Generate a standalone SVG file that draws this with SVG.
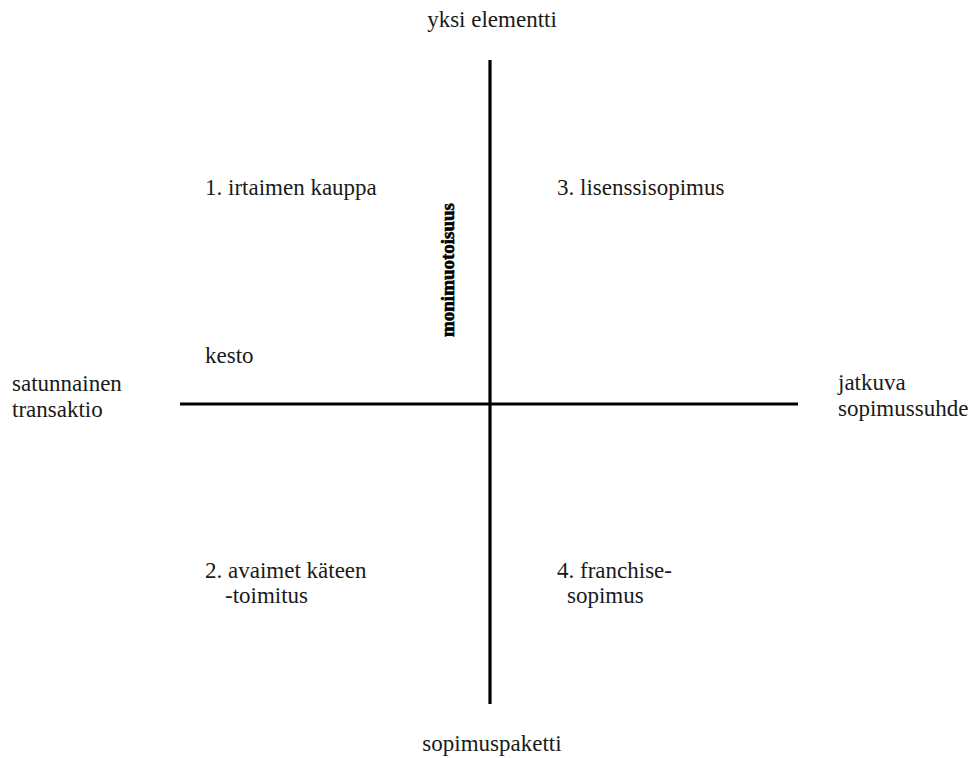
<svg xmlns="http://www.w3.org/2000/svg" width="971" height="758" viewBox="0 0 971 758">
  <style>
    .lbl { font-family: "Liberation Serif", "Times New Roman", serif; font-size: 23px; fill: #1a1a1a; }
    .mid { text-anchor: middle; }
    .axis { stroke: #000; stroke-width: 3.2; fill: none; }
    .vert { font-family: "Liberation Serif", "Times New Roman", serif; font-size: 19px; font-weight: bold; fill: #000; stroke: #000; stroke-width: 0.6; }
  </style>
  <rect width="971" height="758" fill="#fff"/>

  <!-- axes -->
  <g id="connectors">
    <line class="axis" x1="490" y1="60" x2="490" y2="704"/>
    <line class="axis" x1="180" y1="404" x2="798" y2="404"/>
  </g>

  <!-- axis end labels -->
  <g id="top-label"><text class="lbl mid" x="492" y="27">yksi elementti</text></g>
  <g id="bottom-label"><text class="lbl mid" x="492" y="751">sopimuspaketti</text></g>
  <g id="left-label">
    <text class="lbl" x="12" y="391">satunnainen</text>
    <text class="lbl" x="12" y="417">transaktio</text>
  </g>
  <g id="right-label">
    <text class="lbl" x="838" y="390">jatkuva</text>
    <text class="lbl" x="838" y="416">sopimussuhde</text>
  </g>

  <!-- quadrants -->
  <g id="q1"><text class="lbl" x="205" y="195">1. irtaimen kauppa</text></g>
  <g id="q3"><text class="lbl" x="557" y="195">3. lisenssisopimus</text></g>
  <g id="q2">
    <text class="lbl" x="205" y="578">2. avaimet käteen</text>
    <text class="lbl" x="225" y="603">-toimitus</text>
  </g>
  <g id="q4">
    <text class="lbl" x="557" y="578">4. franchise-</text>
    <text class="lbl" x="567" y="603">sopimus</text>
  </g>

  <!-- axis captions -->
  <g id="kesto"><text class="lbl" x="205" y="363">kesto</text></g>
  <g id="monimuotoisuus">
    <text class="vert" transform="translate(454,337) rotate(-90)" x="0" y="0" textLength="134" lengthAdjust="spacingAndGlyphs">monimuotoisuus</text>
  </g>
</svg>
